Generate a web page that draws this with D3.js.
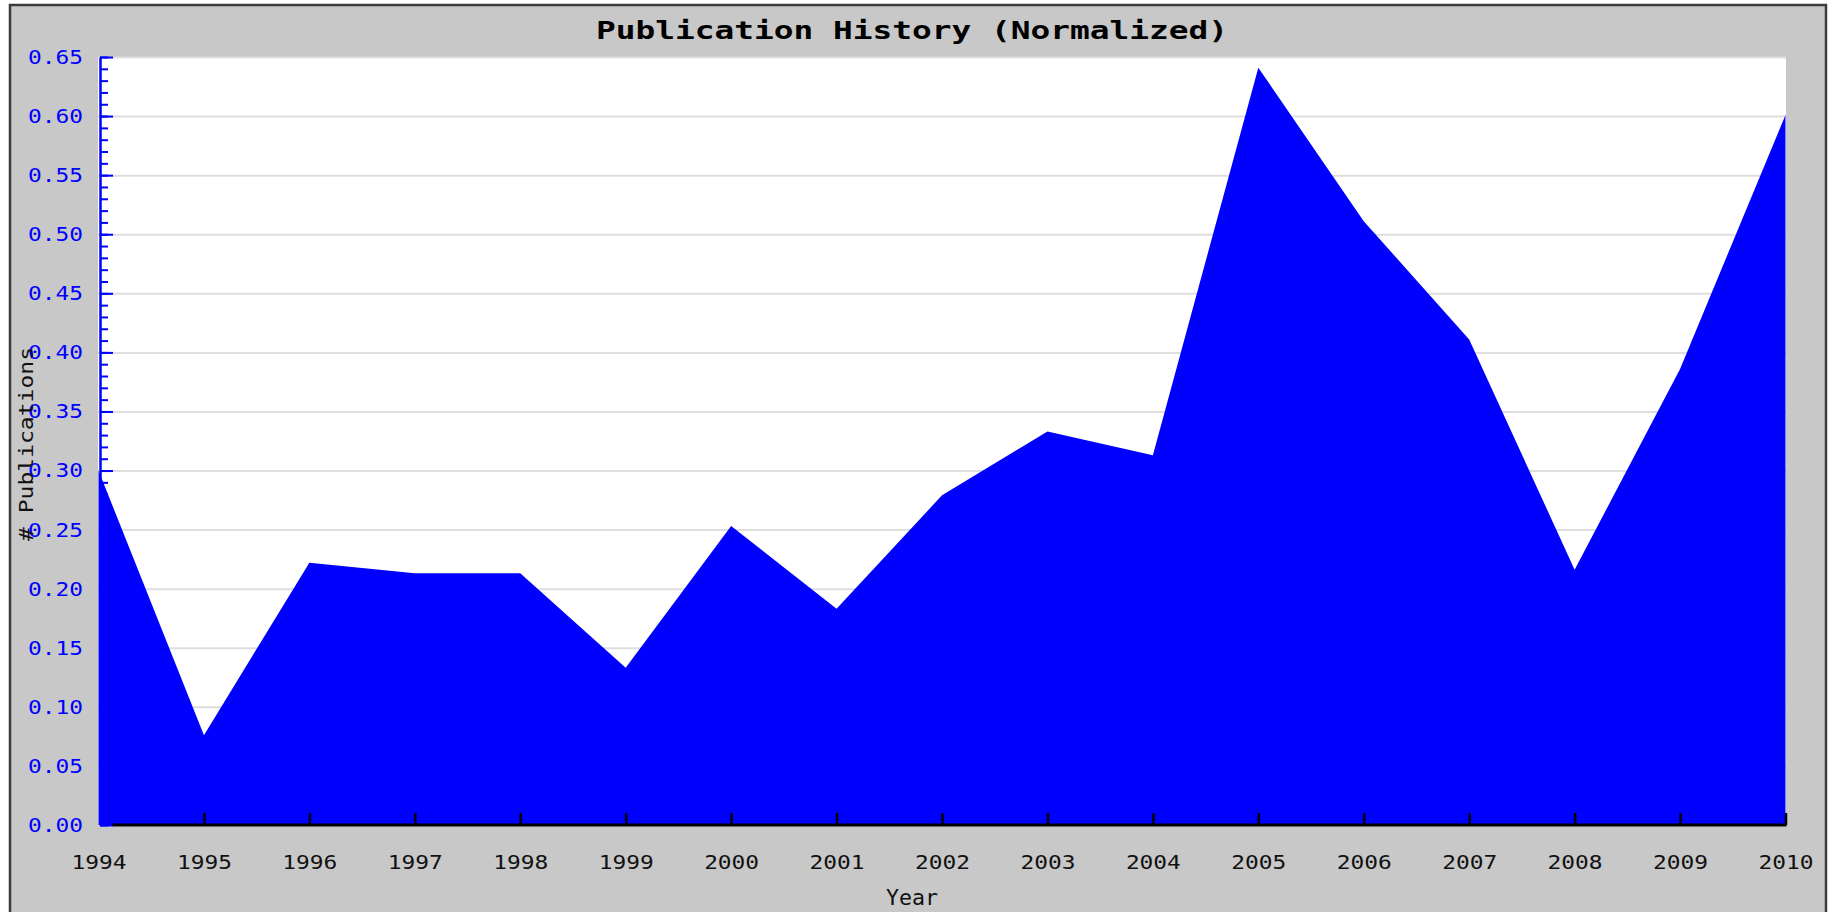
<!DOCTYPE html>
<html>
<head>
<meta charset="utf-8">
<script src="https://cdn.jsdelivr.net/npm/d3@7"></script>
<style>
  html, body { margin: 0; padding: 0; background: #ffffff; }
  svg { display: block; }
  text { font-family: "DejaVu Sans Mono", "Liberation Mono", monospace; }
</style>
</head>
<body>
<svg id="chart" width="1833" height="912"></svg>
<script>
// ---- data ----
const years = [1994, 1995, 1996, 1997, 1998, 1999, 2000, 2001, 2002, 2003, 2004, 2005, 2006, 2007, 2008, 2009, 2010];
const values = [0.300, 0.076, 0.222, 0.213, 0.213, 0.133, 0.253, 0.183, 0.279, 0.333, 0.313, 0.641, 0.511, 0.411, 0.216, 0.386, 0.601];
const yTickValues = [0.00, 0.05, 0.10, 0.15, 0.20, 0.25, 0.30, 0.35, 0.40, 0.45, 0.50, 0.55, 0.60, 0.65];
const titleText = "Publication History (Normalized)";
const xTitle = "Year";
const yTitle = "# Publications";

// ---- layout ----
const W = 1833, H = 912;
const plot = { left: 98, right: 1786, top: 57, bottom: 825 };

const svg = d3.select("#chart");

// outer panel
svg.append("rect").attr("x", 10).attr("y", 5).attr("width", 1816).attr("height", 920)
  .attr("fill", "#c8c8c8").attr("stroke", "#3c3c3c").attr("stroke-width", 2.5);

// plot background
svg.append("rect").attr("x", plot.left).attr("y", plot.top)
  .attr("width", plot.right - plot.left).attr("height", plot.bottom - plot.top)
  .attr("fill", "#ffffff");

const x = d3.scaleLinear().domain([years[0], years[years.length - 1]]).range([plot.left + 0.5, plot.right - 0.5]);
const y = d3.scaleLinear().domain([0, 0.65]).range([plot.bottom, plot.top]);

// gridlines
const grid = svg.append("g").attr("transform", `translate(${plot.left},0)`)
  .call(d3.axisRight(y).tickValues(yTickValues).tickSize(plot.right - plot.left).tickFormat(""));
grid.select(".domain").remove();
grid.selectAll("line").attr("stroke", "#dedede").attr("stroke-width", 2);

// area
const data = years.map((yr, i) => ({ year: yr, value: values[i] }));
const area = d3.area().x(d => x(d.year)).y0(y(0)).y1(d => y(d.value));
svg.append("path").datum(data).attr("d", area).attr("fill", "#0000ff");

// y axis minor ticks (every 0.01)
const minorTicks = d3.range(0, 66).map(i => i / 100);
const yMinor = svg.append("g").attr("transform", `translate(100,0)`)
  .call(d3.axisRight(y).tickValues(minorTicks).tickSize(8).tickSizeOuter(0).tickFormat(""));
yMinor.select(".domain").attr("stroke", "#0000ff").attr("stroke-width", 2.5);
yMinor.selectAll("line").attr("stroke", "#0000ff").attr("stroke-width", 2);

// y axis major ticks
const yMajor = svg.append("g").attr("transform", `translate(100,0)`)
  .call(d3.axisRight(y).tickValues(yTickValues).tickSize(13).tickSizeOuter(0).tickFormat(""));
yMajor.select(".domain").remove();
yMajor.selectAll("line").attr("stroke", "#0000ff").attr("stroke-width", 2);

// y axis labels
const yLab = svg.append("g").attr("transform", `translate(83,0)`)
  .call(d3.axisLeft(y).tickValues(yTickValues).tickSize(0).tickPadding(0).tickFormat(d3.format(".2f")));
yLab.select(".domain").remove();
yLab.selectAll("text")
  .attr("fill", "#0000ff")
  .style("font-size", "20px")
  .style("font-family", "'DejaVu Sans Mono', monospace")
  .attr("textLength", 55)
  .attr("lengthAdjust", "spacingAndGlyphs");

// x axis
const xAxis = svg.append("g").attr("transform", `translate(0,${plot.bottom})`)
  .call(d3.axisBottom(x).tickValues(years).tickSizeInner(-12).tickSizeOuter(0).tickPadding(30).tickFormat(d3.format("d")));
xAxis.select(".domain").remove();
xAxis.selectAll("line").attr("stroke", "#000000").attr("stroke-width", 2.5)
  .filter(d => d === years[0]).remove();
xAxis.selectAll("text")
  .attr("fill", "#111111")
  .style("font-size", "20px")
  .style("font-family", "'DejaVu Sans Mono', monospace")
  .attr("textLength", 55)
  .attr("lengthAdjust", "spacingAndGlyphs");
svg.append("line")
  .attr("x1", x(years[0]) + 14).attr("x2", x(years[years.length - 1]) + 1)
  .attr("y1", plot.bottom).attr("y2", plot.bottom)
  .attr("stroke", "#000000").attr("stroke-width", 3);

// title
svg.append("text")
  .attr("x", 912).attr("y", 39)
  .attr("text-anchor", "middle")
  .attr("fill", "#000000")
  .style("font-size", "25px")
  .style("font-weight", "bold")
  .attr("textLength", 632)
  .attr("lengthAdjust", "spacingAndGlyphs")
  .text(titleText);

// x title
svg.append("text")
  .attr("x", 912).attr("y", 905)
  .attr("text-anchor", "middle")
  .attr("fill", "#111111")
  .style("font-size", "21px")
  .attr("textLength", 52)
  .attr("lengthAdjust", "spacingAndGlyphs")
  .text(xTitle);

// y title
svg.append("text")
  .attr("transform", "translate(33,444) rotate(-90)")
  .attr("text-anchor", "middle")
  .attr("fill", "#111111")
  .style("font-size", "20px")
  .attr("textLength", 194)
  .attr("lengthAdjust", "spacingAndGlyphs")
  .text(yTitle);
</script>
</body>
</html>
